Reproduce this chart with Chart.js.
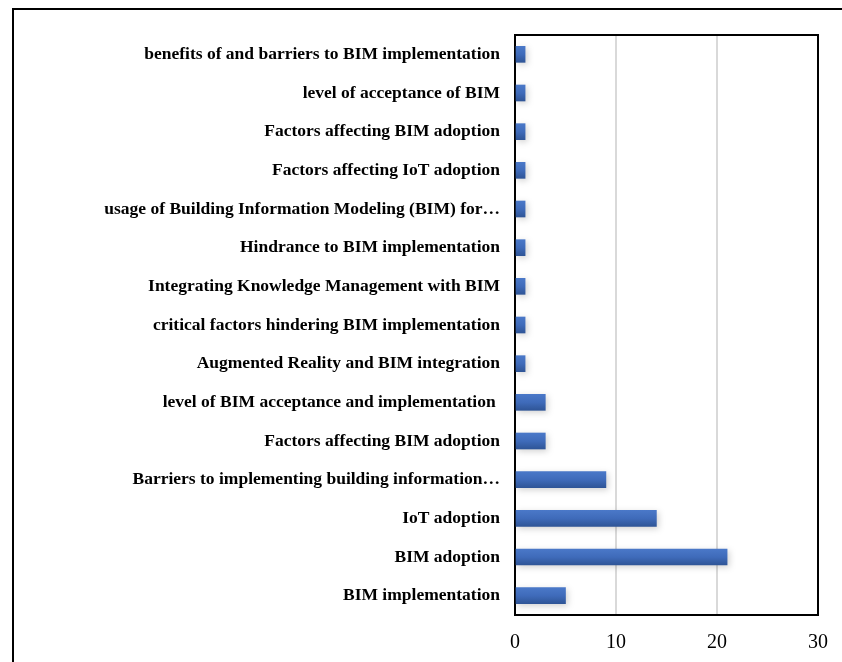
<!DOCTYPE html>
<html>
<head>
<meta charset="utf-8">
<script src="https://cdn.jsdelivr.net/npm/chart.js@4/dist/chart.umd.min.js"></script>
<style>
  html, body { margin: 0; padding: 0; background: #fff; }
  #wrap { width: 842px; height: 662px; }
</style>
</head>
<body>
<div id="wrap"><canvas id="chart" width="842" height="662"></canvas></div>
<script>
// topics, listed top to bottom
const topics = [
  'benefits of and barriers to BIM implementation',
  'level of acceptance of BIM',
  'Factors affecting BIM adoption',
  'Factors affecting IoT adoption',
  'usage of Building Information Modeling (BIM) for\u2026',
  'Hindrance to BIM implementation',
  'Integrating Knowledge Management with BIM',
  'critical factors hindering BIM implementation',
  'Augmented Reality and BIM integration',
  'level of BIM acceptance and implementation ',
  'Factors affecting BIM adoption',
  'Barriers to implementing building information\u2026',
  'IoT adoption',
  'BIM adoption',
  'BIM implementation'
];
const counts = [1, 1, 1, 1, 1, 1, 1, 1, 1, 3, 3, 9, 14, 21, 5];
const xTicks = [0, 10, 20, 30];

const BAR_H = 16;

// frame around the figure plus the top/right edges of the plot box
const framePlugin = {
  id: 'frame',
  afterDraw(chart) {
    const ctx = chart.ctx;
    const a = chart.chartArea;
    ctx.save();
    ctx.strokeStyle = '#000';
    ctx.lineWidth = 2;
    ctx.beginPath();
    ctx.moveTo(13, 662);
    ctx.lineTo(13, 9);
    ctx.lineTo(842, 9);
    ctx.stroke();
    ctx.beginPath();
    ctx.moveTo(a.left, a.top);
    ctx.lineTo(a.right, a.top);
    ctx.lineTo(a.right, a.bottom);
    ctx.stroke();
    ctx.restore();
  }
};

// soft shadow under the bars
const shadowPlugin = {
  id: 'barShadow',
  beforeDatasetDraw(chart) {
    const ctx = chart.ctx;
    ctx.save();
    ctx.shadowColor = 'rgba(0,0,0,0.18)';
    ctx.shadowBlur = 6;
    ctx.shadowOffsetX = 2;
    ctx.shadowOffsetY = 2;
  },
  afterDatasetDraw(chart) {
    chart.ctx.restore();
  }
};

function barFill(context) {
  const chart = context.chart;
  const y = chart.scales.y;
  if (!y || y.top === undefined) return '#4472C4';
  const c = y.getPixelForValue(context.dataIndex);
  const g = chart.ctx.createLinearGradient(0, c - BAR_H / 2, 0, c + BAR_H / 2);
  g.addColorStop(0, '#4A78C8');
  g.addColorStop(0.5, '#3F6BBA');
  g.addColorStop(1, '#2F5597');
  return g;
}

new Chart(document.getElementById('chart'), {
  type: 'bar',
  data: {
    labels: topics,
    datasets: [{
      data: counts,
      backgroundColor: barFill,
      borderWidth: 0,
      barThickness: BAR_H
    }]
  },
  options: {
    indexAxis: 'y',
    responsive: false,
    animation: false,
    layout: { padding: { top: 35, right: 24, left: 0, bottom: 0 } },
    plugins: {
      legend: { display: false },
      tooltip: { enabled: false }
    },
    scales: {
      x: {
        min: 0,
        max: 30,
        afterBuildTicks(scale) {
          scale.ticks = xTicks.map(v => ({ value: v }));
        },
        afterFit(scale) {
          scale.height = 47;
          scale.paddingLeft = 0;
          scale.paddingRight = 0;
        },
        grid: { color: '#d9d9d9', lineWidth: 2, drawTicks: false },
        border: { display: true, color: '#000', width: 2 },
        ticks: {
          padding: 16,
          color: '#000',
          font: { family: 'Liberation Serif', size: 20 }
        }
      },
      y: {
        afterFit(scale) { scale.width = 515; },
        grid: { display: false, drawTicks: false },
        border: { display: true, color: '#000', width: 2 },
        ticks: {
          padding: 15,
          color: '#000',
          autoSkip: false,
          font: { family: 'Liberation Serif', size: 17.5, weight: 'bold' }
        }
      }
    }
  },
  plugins: [shadowPlugin, framePlugin]
});
</script>
</body>
</html>
